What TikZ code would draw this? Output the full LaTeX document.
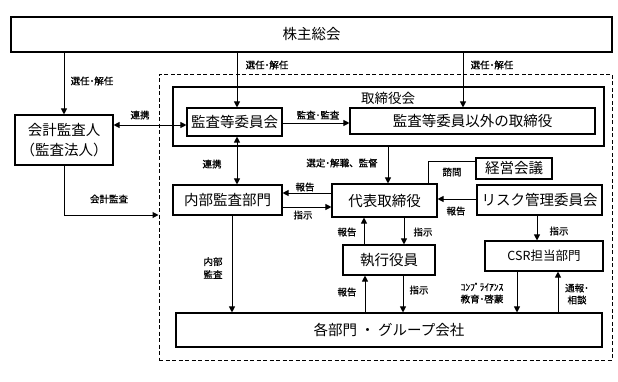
\documentclass[tikz,border=0pt]{standalone}
\usepackage{fontspec}
\setmainfont{Noto Sans CJK JP}
\newfontfamily\lblfont[FakeBold=0.8]{Noto Sans CJK JP}
\usetikzlibrary{arrows.meta}
\begin{document}
\begin{tikzpicture}[x=1pt,y=-1pt,
  box/.style={draw, line width=1.1pt, inner sep=0pt, align=center, font=\fontsize{14.5}{20}\selectfont},
  lbl/.style={inner sep=1pt, align=center, font=\lblfont\fontsize{9.5}{12.5}\selectfont},
  tip/.tip={Triangle[length=6pt,width=6pt]},
  arr/.style={line width=1pt, -tip},
  darr/.style={line width=1pt, tip-tip},
  ln/.style={line width=1pt}]
\useasboundingbox (0,0) rectangle (618,381);
% group (dashed)
\node[draw, dashed, dash pattern=on 4pt off 2.5pt, line width=1pt, minimum width=453pt, minimum height=286pt, inner sep=0pt] (group) at (385.5,217) {};
% boxes
\node[box, minimum width=601pt, minimum height=35pt] (kabu) at (311.5,34.5) {株主総会};
\node[box, minimum width=98pt, minimum height=50pt] (kaikei) at (64,140) {会計監査人\\（監査法人）};
\node[box, minimum width=431pt, minimum height=59pt] (board) at (388.5,116.5) {};
\node[inner sep=0pt, font=\fontsize{13.5}{16}\selectfont] (boardt) at (388,98) {取締役会};
\node[box, minimum width=95pt, minimum height=28pt] (kansa) at (234.5,122) {監査等委員会};
\node[box, minimum width=245pt, minimum height=26pt] (igai) at (472.5,121) {監査等委員以外の取締役};
\node[box, minimum width=109pt, minimum height=30pt] (naibu) at (227.5,200) {内部監査部門};
\node[box, minimum width=105pt, minimum height=33pt] (daihyo) at (384.5,200.5) {代表取締役};
\node[box, minimum width=76pt, minimum height=21pt] (keiei) at (514,168.5) {経営会議};
\node[box, minimum width=125pt, minimum height=30pt] (risk) at (539.5,200) {リスク管理委員会};
\node[box, minimum width=92pt, minimum height=30pt] (shikko) at (389,260) {執行役員};
\node[box, minimum width=118pt, minimum height=30pt, font=\fontsize{12.5}{16}\selectfont] (csr) at (544,256) {CSR担当部門};
\node[box, minimum width=426pt, minimum height=34pt] (kakubu) at (389,330) {各部門 ・ グループ会社};
% helper coordinates
\coordinate (kN) at ([xshift=2.5pt]kansa.north);
\coordinate (kS) at ([xshift=2.5pt]kansa.south);
\coordinate (kW) at ([yshift=-3pt]kansa.west);
\coordinate (kE) at ([yshift=-1pt]kansa.east);
\coordinate (iN) at ([xshift=-9.5pt]igai.north);
\coordinate (dN) at ([xshift=3.5pt]daihyo.north);
\coordinate (dNk) at ([xshift=43.5pt]daihyo.north);
\coordinate (nE1) at ([yshift=7pt]naibu.east);
\coordinate (nE2) at ([yshift=-7pt]naibu.east);
\coordinate (kwW) at ([yshift=7.5pt]keiei.west);
\coordinate (rW) at ([yshift=1pt]risk.west);
\coordinate (sN1) at ([xshift=-25pt]shikko.north);
\coordinate (sN2) at ([xshift=15pt]shikko.north);
\coordinate (sS1) at ([xshift=-24pt]shikko.south);
\coordinate (sS2) at ([xshift=14pt]shikko.south);
\coordinate (rS) at ([xshift=-2.5pt]risk.south);
\coordinate (cS1) at ([xshift=-27pt]csr.south);
\coordinate (cS2) at ([xshift=14pt]csr.south);
\coordinate (nS) at ([xshift=4.5pt]naibu.south);
\coordinate (gW) at ([yshift=2pt]group.west);
% connectors
\draw[arr] (kabu.south -| kaikei.north) -- (kaikei.north);
\draw[arr] (kN |- kabu.south) -- (kN);
\draw[arr] (iN |- kabu.south) -- (iN);
\draw[darr] (kW -| kaikei.east) -- (kW);
\draw[arr] (kE) -- (kE -| igai.west);
\draw[darr] (kS) -- (kS |- naibu.north);
\draw[arr] (dN |- board.south) -- (dN);
\draw[arr] (nE2) -- (nE2 -| daihyo.west);
\draw[arr] (nE1 -| daihyo.west) -- (nE1);
\draw[ln] (kwW) -| (dNk);
\draw[arr] (rW) -- (rW -| daihyo.east);
\draw[arr] (sN1) -- (sN1 |- daihyo.south);
\draw[arr] (sN2 |- daihyo.south) -- (sN2);
\draw[arr] (sS1 |- kakubu.north) -- (sS1);
\draw[arr] (sS2) -- (sS2 |- kakubu.north);
\draw[arr] (rS) -- (rS |- csr.north);
\draw[arr] (cS1) -- (cS1 |- kakubu.north);
\draw[arr] (cS2 |- kakubu.north) -- (cS2);
\draw[arr] (nS) -- (nS |- kakubu.north);
\draw[arr] (kaikei.south) |- (gW);
% labels
\node[lbl] (l1) at (92,81) {選任･解任};
\node[lbl] (l2) at (267,65) {選任･解任};
\node[lbl] (l3) at (492,65) {選任･解任};
\node[lbl] (l4) at (140,115) {連携};
\node[lbl] (l5) at (318,115) {監査･監査};
\node[lbl] (l6) at (212,164) {連携};
\node[lbl] (l7) at (342,163) {選定･解職、監督};
\node[lbl] (l8) at (305,187) {報告};
\node[lbl] (l9) at (303,215) {指示};
\node[lbl] (l10) at (452,172) {諮問};
\node[lbl] (l11) at (456,211) {報告};
\node[lbl] (l12) at (347,232) {報告};
\node[lbl] (l13) at (423,232) {指示};
\node[lbl] (l14) at (559,231) {指示};
\node[lbl] (l15) at (347,292) {報告};
\node[lbl] (l16) at (419,290) {指示};
\node[lbl, font=\lblfont\fontsize{9.5}{12}\selectfont] (l17) at (482,293) {ｺﾝﾌﾟﾗｲｱﾝｽ\\教育･啓蒙};
\node[lbl, font=\lblfont\fontsize{9.5}{12}\selectfont] (l18) at (577,294) {通報･\\相談};
\node[lbl, font=\lblfont\fontsize{9.5}{13}\selectfont] (l19) at (213,268) {内部\\監査};
\node[lbl] (l20) at (109,199) {会計監査};
\end{tikzpicture}
\end{document}
